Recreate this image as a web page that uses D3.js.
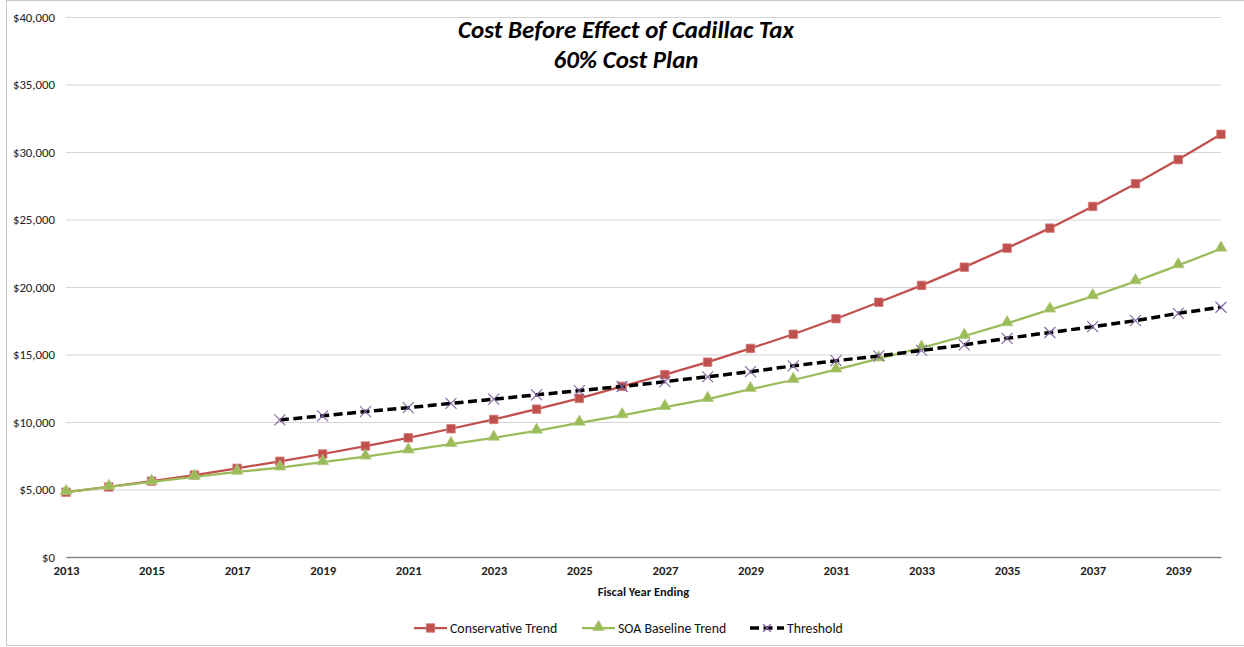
<!DOCTYPE html>
<html>
<head>
<meta charset="utf-8">
<script src="https://cdn.jsdelivr.net/npm/d3@7"></script>
<style>
  html, body { margin: 0; padding: 0; background: #ffffff; }
  svg { display: block; font-family: Calibri, Carlito, Lato, "Open Sans", sans-serif; }
</style>
</head>
<body>
<svg id="chart" width="1244" height="647"></svg>
<script>
// Fiscal years on the category axis
const years = [2013, 2014, 2015, 2016, 2017, 2018, 2019, 2020, 2021, 2022, 2023, 2024, 2025, 2026,
               2027, 2028, 2029, 2030, 2031, 2032, 2033, 2034, 2035, 2036, 2037, 2038, 2039, 2040];

// Annual cost per plan under each trend assumption ($)
const conservative = [4800, 5190, 5620, 6070, 6570, 7090, 7630, 8220, 8830, 9500, 10190, 10950, 11750, 12640,
                      13510, 14430, 15450, 16500, 17650, 18870, 20120, 21470, 22880, 24360, 25970, 27650, 29440, 31310];
const soaBaseline  = [4800, 5190, 5560, 5940, 6300, 6620, 7020, 7430, 7890, 8360, 8830, 9350, 9940, 10490,
                      11100, 11700, 12430, 13110, 13880, 14700, 15490, 16370, 17310, 18320, 19310, 20420, 21600, 22830];

// Excise tax threshold, starting in 2018
const thresholdYears = [2018, 2019, 2020, 2021, 2022, 2023, 2024, 2025, 2026, 2027, 2028, 2029,
                        2030, 2031, 2032, 2033, 2034, 2035, 2036, 2037, 2038, 2039, 2040];
const threshold = [10150, 10460, 10770, 11060, 11380, 11690, 12010, 12330, 12630, 12990, 13350, 13730,
                   14160, 14540, 14890, 15300, 15720, 16200, 16630, 17060, 17510, 18050, 18500];

// Axis ticks
const yTicks = [0, 5000, 10000, 15000, 20000, 25000, 30000, 35000, 40000];
const xTickYears = [2013, 2015, 2017, 2019, 2021, 2023, 2025, 2027, 2029, 2031, 2033, 2035, 2037, 2039];

const seriesNames = ["Conservative Trend", "SOA Baseline Trend", "Threshold"];

const svg = d3.select("#chart");
const W = 1244, H = 647;
const plot = { left: 66, right: 1221, top: 17, bottom: 557 };

const x = d3.scaleLinear().domain([2013, 2040]).range([plot.left, plot.right]);
const y = d3.scaleLinear().domain([0, 40000]).range([plot.bottom, plot.top]);

const RED = "#C0504D", GREEN = "#9BBB59", PURPLE = "#8064A2";
const FONT = "Calibri, Carlito, Lato, sans-serif";

// Chart frame
svg.append("rect")
  .attr("x", 6.5).attr("y", 0.5)
  .attr("width", W - 4).attr("height", 645)
  .attr("fill", "#fff").attr("stroke", "#c8c8c8").attr("stroke-width", 1);

// Horizontal gridlines with dollar labels
const yAxis = d3.axisLeft(y)
  .tickValues(yTicks)
  .tickSize(-(plot.right - plot.left))
  .tickPadding(11)
  .tickFormat(d => "$" + d3.format(",")(d));
const gy = svg.append("g")
  .attr("transform", `translate(${plot.left},0)`)
  .call(yAxis);
gy.select(".domain").remove();
gy.selectAll(".tick line").attr("stroke", "#d4d4d4").attr("stroke-width", 1);
gy.selectAll(".tick text")
  .attr("font-size", 12.8).attr("fill", "#222")
  .attr("font-family", FONT);

// Category axis
const xAxis = d3.axisBottom(x)
  .tickValues(xTickYears)
  .tickSize(0)
  .tickPadding(9)
  .tickFormat(d3.format("d"));
const gx = svg.append("g")
  .attr("transform", `translate(0,${plot.bottom})`)
  .call(xAxis);
gx.select(".domain").attr("stroke", "#868686").attr("stroke-width", 1.3);
gx.selectAll(".tick text")
  .attr("font-size", 12.8).attr("font-weight", "bold").attr("fill", "#222")
  .attr("font-family", FONT);

svg.append("text")
  .attr("x", (plot.left + plot.right) / 2).attr("y", 595.5)
  .attr("text-anchor", "middle")
  .attr("font-size", 12.5).attr("font-weight", "bold").attr("fill", "#111")
  .text("Fiscal Year Ending");

// Title
const title = svg.append("text")
  .attr("text-anchor", "middle")
  .attr("font-size", 25).attr("font-weight", "bold").attr("font-style", "italic")
  .attr("fill", "#000");
title.append("tspan").attr("x", 626).attr("y", 38).text("Cost Before Effect of Cadillac Tax");
title.append("tspan").attr("x", 626).attr("y", 68).text("60% Cost Plan");

const line = d3.line().x(d => x(d[0])).y(d => y(d[1]));

// Marker shapes
const squareSym = d3.symbol().type(d3.symbolSquare).size(72);
const triSym = d3.symbol().type(d3.symbolTriangle).size(60);
function drawX(g, cx, cy, r) {
  g.append("path")
    .attr("d", `M${cx - r},${cy - r}L${cx + r},${cy + r}M${cx - r},${cy + r}L${cx + r},${cy - r}`)
    .attr("stroke", PURPLE).attr("stroke-width", 1.1).attr("fill", "none");
}

// Conservative trend
const consData = years.map((yr, i) => [yr, conservative[i]]);
svg.append("path").datum(consData)
  .attr("d", line).attr("fill", "none").attr("stroke", RED).attr("stroke-width", 2.25);
svg.append("g").selectAll("path").data(consData).join("path")
  .attr("d", squareSym)
  .attr("transform", d => `translate(${x(d[0])},${y(d[1])})`)
  .attr("fill", RED).attr("stroke", "#d27a78").attr("stroke-width", 0.8);

// SOA baseline trend
const soaData = years.map((yr, i) => [yr, soaBaseline[i]]);
svg.append("path").datum(soaData)
  .attr("d", line).attr("fill", "none").attr("stroke", GREEN).attr("stroke-width", 2.25);
svg.append("g").selectAll("path").data(soaData).join("path")
  .attr("d", triSym)
  .attr("transform", d => `translate(${x(d[0])},${y(d[1]) - 1})`)
  .attr("fill", GREEN).attr("stroke", "#b2cc80").attr("stroke-width", 0.8);

// Threshold
const thrData = thresholdYears.map((yr, i) => [yr, threshold[i]]);
svg.append("path").datum(thrData)
  .attr("d", line).attr("fill", "none").attr("stroke", "#000")
  .attr("stroke-width", 3.5).attr("stroke-dasharray", "9,4.5");
const gThr = svg.append("g");
thrData.forEach(d => drawX(gThr, x(d[0]), y(d[1]), 5.5));

// Legend
const legY = 628;
const legFont = 13.8;
const leg = svg.append("g").attr("font-family", FONT);
// Conservative
leg.append("line").attr("x1", 414).attr("x2", 447).attr("y1", legY).attr("y2", legY)
  .attr("stroke", RED).attr("stroke-width", 2.25);
leg.append("path").attr("d", squareSym).attr("transform", `translate(430.5,${legY})`)
  .attr("fill", RED).attr("stroke", "#d27a78").attr("stroke-width", 0.8);
leg.append("text").attr("x", 450).attr("y", legY + 5).attr("font-size", legFont).attr("fill", "#111")
  .text(seriesNames[0]);
// SOA
leg.append("line").attr("x1", 582).attr("x2", 615).attr("y1", legY).attr("y2", legY)
  .attr("stroke", GREEN).attr("stroke-width", 2.25);
leg.append("path").attr("d", triSym).attr("transform", `translate(598.5,${legY - 1})`)
  .attr("fill", GREEN).attr("stroke", "#b2cc80").attr("stroke-width", 0.8);
leg.append("text").attr("x", 618).attr("y", legY + 5).attr("font-size", legFont).attr("fill", "#111")
  .text(seriesNames[1]);
// Threshold
leg.append("line").attr("x1", 750).attr("x2", 784).attr("y1", legY).attr("y2", legY)
  .attr("stroke", "#000").attr("stroke-width", 3.5).attr("stroke-dasharray", "9,4.5");
drawX(leg, 767, legY, 4);
leg.append("text").attr("x", 787).attr("y", legY + 5).attr("font-size", legFont).attr("fill", "#111")
  .text(seriesNames[2]);
</script>
</body>
</html>
